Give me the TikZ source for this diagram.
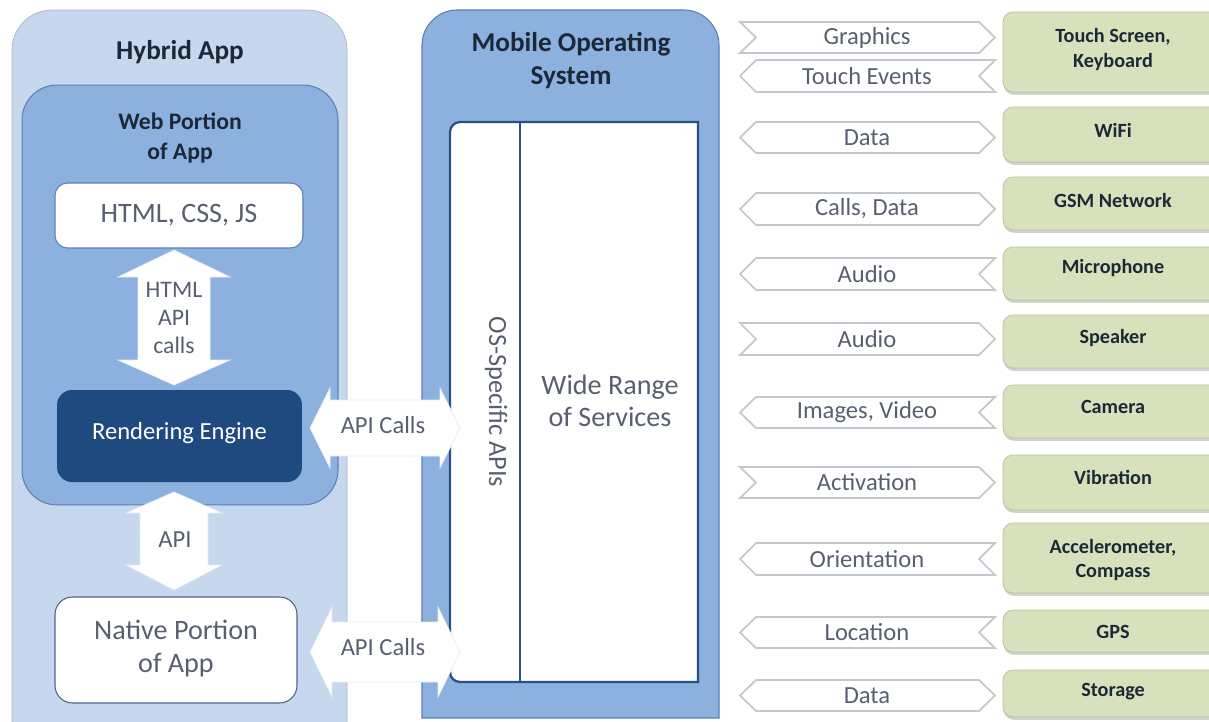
\documentclass[tikz,border=0pt]{standalone}
\usepackage{fontspec}
\setmainfont{Carlito}
\usetikzlibrary{shadows}
\definecolor{outerblue}{HTML}{C6D7EE}
\definecolor{midblue}{HTML}{8DB1DF}
\definecolor{darkblue}{HTML}{1F4A80}
\definecolor{edgeblue}{HTML}{5B7FB3}
\definecolor{boxedge}{HTML}{2A4F82}
\definecolor{greenbox}{HTML}{D7E2BC}
\definecolor{txtdark}{HTML}{1C2738}
\definecolor{txtgray}{HTML}{586070}
\definecolor{chevedge}{HTML}{C3C8CF}
\begin{document}
\begin{tikzpicture}[x=0.02cm,y=-0.02cm,
  ttl/.style={font=\bfseries\fontsize{15.5}{19}\selectfont, text=txtdark, align=center, inner sep=0pt},
  wtl/.style={font=\bfseries\fontsize{13.5}{17}\selectfont, text=txtdark, align=center, inner sep=0pt},
  bigtxt/.style={font=\fontsize{16}{18.8}\selectfont, text=txtgray, align=center, inner sep=0pt},
  midtxt/.style={font=\fontsize{14}{16}\selectfont, text=txtgray, align=center, inner sep=0pt},
  glab/.style={font=\bfseries\fontsize{11.5}{14}\selectfont, text=txtdark, align=center, inner sep=0pt},
  clab/.style={font=\fontsize{14}{16}\selectfont, text=txtgray, inner sep=0pt},
  chev/.style={fill=white, draw=chevedge, line width=1pt},
  gbox/.style={fill=greenbox, draw=greenbox!85!black, line width=0.4pt, rounded corners=0.2cm,
    minimum width=4.72cm, inner sep=0pt,
    drop shadow={shadow xshift=0.4pt, shadow yshift=-1.6pt, opacity=0.35}},
  barrow/.style={fill=white, draw=white!85!edgeblue, line width=0.4pt}
]
\useasboundingbox (0,0) rectangle (1209,721);
\clip (0,0) rectangle (1209,721);
\fill[white] (0,0) rectangle (1209,721);

% Hybrid App outer panel
\path[fill=outerblue, draw=outerblue!85!black, line width=0.4pt]
  (12,780) -- (12,50) .. controls (12,28) and (30,10) .. (52,10) -- (307,10)
  .. controls (329,10) and (347,28) .. (347,50) -- (347,780);
\node[ttl] (hybrid) at (180,52) {Hybrid App};

% Web portion
\node[fill=midblue, draw=edgeblue, line width=0.6pt, rounded corners=0.7cm,
  minimum width=6.32cm, minimum height=8.4cm] (web) at (180,295) {};
\node[wtl] (webt) at (180,138) {Web Portion\\of App};

\node[fill=white, draw=edgeblue, line width=0.6pt, rounded corners=0.25cm,
  minimum width=4.96cm, minimum height=1.3cm] (html) at (179,215.5) {};
\node[bigtxt] (htmlt) at (179,215) {HTML, CSS, JS};

\node[fill=darkblue, rounded corners=0.3cm,
  minimum width=4.9cm, minimum height=1.84cm] (render) at (179.5,436) {};
\node[font=\fontsize{14}{16}\selectfont, text=white, inner sep=0pt] (rendert) at (179.5,433) {Rendering Engine};

\node[fill=white, draw=edgeblue!80!black, line width=0.6pt, rounded corners=0.35cm,
  minimum width=4.84cm, minimum height=2.12cm] (native) at (176,650) {};
\node[bigtxt] (nativet) at (176,649) {Native Portion\\of App};

% vertical block arrows
\path[barrow] (174,250) -- (230,277) -- (210,277) -- (210,360) -- (230,360) -- (174,385)
  -- (118,360) -- (138,360) -- (138,277) -- (118,277) -- cycle;
\node[font=\fontsize{13.5}{16}\selectfont, text=txtgray, align=center, inner sep=0pt] (htmlapi) at (174,318) {HTML\\API\\calls};

\path[barrow] (174,492) -- (222,513) -- (208,513) -- (208,565) -- (222,565) -- (174,590)
  -- (126,565) -- (140,565) -- (140,513) -- (126,513) -- cycle;
\node[midtxt] (api) at (175,540) {API};

% Mobile OS
\path[fill=midblue, draw=edgeblue, line width=0.6pt]
  (422,718) -- (422,45) .. controls (422,26) and (438,10) .. (457,10) -- (684,10)
  .. controls (703,10) and (719,26) .. (719,45) -- (719,718) -- cycle;
\node[ttl, font=\bfseries\fontsize{15.5}{18.8}\selectfont] (mos) at (571,61) {Mobile Operating\\System};

\path[fill=white, draw=boxedge, line width=1.3pt]
  (698,122) -- (460,122) .. controls (454.5,122) and (450,126.5) .. (450,132)
  -- (450,672) .. controls (450,677.5) and (454.5,682) .. (460,682) -- (698,682) -- cycle;
\draw[boxedge, line width=1.3pt] (520,122) -- (520,682);
\node[font=\fontsize{15}{18}\selectfont, text=txtgray, rotate=-90, inner sep=0pt] (osapi) at (496,402) {OS-Specific APIs};
\node[bigtxt, font=\fontsize{16}{18.2}\selectfont] (wide) at (610,401) {Wide Range\\of Services};

% horizontal API Calls arrows
\path[barrow] (310,428) -- (330,388) -- (330,400) -- (440,400) -- (440,388) -- (460,428)
  -- (440,468) -- (440,456) -- (330,456) -- (330,468) -- cycle;
\node[midtxt] (apic1) at (383,425) {API Calls};
\path[barrow] (310,652) -- (332,607) -- (332,622) -- (438,622) -- (438,607) -- (460,652)
  -- (438,697) -- (438,682) -- (332,682) -- (332,697) -- cycle;
\node[midtxt] (apic2) at (383,647) {API Calls};

% chevrons
\foreach \t/\b/\xl/\xm/\xr/\xn/\lab/\nm in {
  22/53/740/756/979/995/Graphics/c1,
  60/92/756/740/995/979/{Touch Events}/c2,
  122/153/756/740/979/995/Data/c3,
  193/225/756/740/979/995/{Calls, Data}/c4,
  258/290/756/740/995/979/Audio/c5,
  323/355/740/756/979/995/Audio/c6,
  397/428/756/740/995/979/{Images, Video}/c7,
  467/498/740/756/979/995/Activation/c8,
  543/575/756/740/995/979/Orientation/c9,
  617/648/756/740/995/979/Location/c10,
  680/711/756/740/979/995/Data/c11}{
  \path[chev] (\xl,\t) -- (\xr,\t) -- (\xn,{(\t+\b)/2}) -- (\xr,\b) -- (\xl,\b)
    -- (\xm,{(\t+\b)/2}) -- cycle;
  \node[clab] (\nm) at (867,{(\t+\b)/2}) {\lab};
}

% green boxes
\foreach \t/\b/\ty/\lab/\nm in {
  12/92/49.5/{Touch Screen,\\Keyboard}/g1,
  107/162/130/WiFi/g2,
  177/230/200/GSM Network/g3,
  247/300/268/Microphone/g4,
  315/368/338/Speaker/g5,
  385/438/407/Camera/g6,
  455/510/477/Vibration/g7,
  523/593/560/{Accelerometer,\\Compass}/g8,
  610/652/632/GPS/g9,
  670/717/692/Storage/g10}{
  \node[gbox, minimum height={(\b-\t)*0.02cm}] (\nm) at (1121,{(\t+\b)/2}) {};
  \node[glab] (\nm t) at (1113,\ty) {\lab};
}
\end{tikzpicture}
\end{document}
